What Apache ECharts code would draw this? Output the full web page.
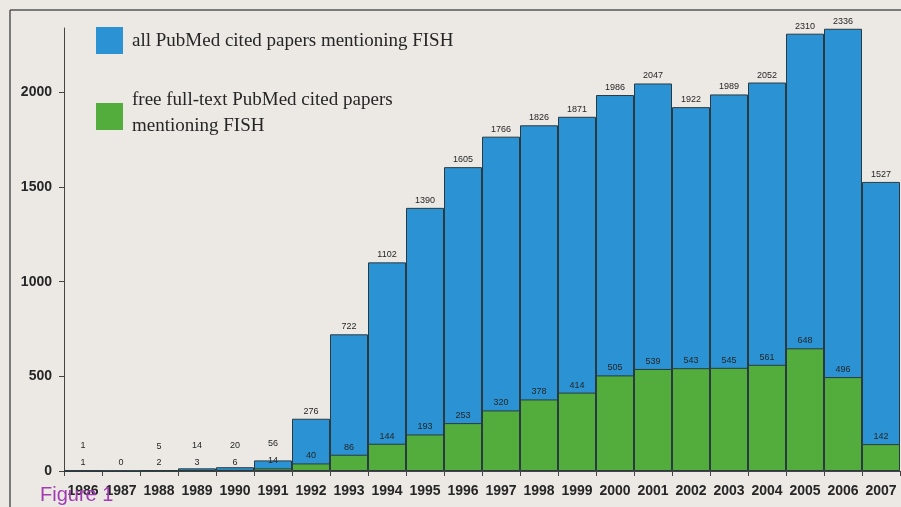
<!DOCTYPE html>
<html>
<head>
<meta charset="utf-8">
<script src="https://cdn.jsdelivr.net/npm/echarts@6/dist/echarts.min.js"></script>
<style>
html,body{margin:0;padding:0;background:#ece9e4;}
#c{width:901px;height:507px;}
</style>
</head>
<body>
<div id="c"></div>
<script>
const years = ['1986','1987','1988','1989','1990','1991','1992','1993','1994','1995','1996','1997','1998','1999','2000','2001','2002','2003','2004','2005','2006','2007'];
const allPapers = [1,0,5,14,20,56,276,722,1102,1390,1605,1766,1826,1871,1986,2047,1922,1989,2052,2310,2336,1527];
const freePapers = [1,0,2,3,6,14,40,86,144,193,253,320,378,414,505,539,543,545,561,648,496,142];
const yTickValues = [0,500,1000,1500,2000];
const seriesNames = ['all PubMed cited papers mentioning FISH','free full-text PubMed cited papers\nmentioning FISH'];

const BLUE = '#2b93d3';
const GREEN = '#52ad3c';
const chart = echarts.init(document.getElementById('c'), null, {renderer:'canvas'});

const labelStyle = {show:true, position:'top', distance:3, fontSize:9, fontFamily:'Liberation Sans, Arial, sans-serif', color:'#262626'};

const option = {
  backgroundColor:'#ece9e4',
  animation:false,
  grid:{left:64, right:1, top:28, bottom:36, containLabel:false, outerBoundsMode:'none'},
  xAxis:{
    type:'category', data:years, boundaryGap:true,
    axisLine:{lineStyle:{color:'#444', width:1}},
    axisTick:{show:true, length:5, lineStyle:{color:'#444'}},
    axisLabel:{fontSize:14, fontWeight:'bold', color:'#262626', margin:13, fontFamily:'Liberation Sans, Arial, sans-serif', interval:0}
  },
  yAxis:{
    type:'value', min:0, max:2340,
    splitLine:{show:false},
    axisLine:{show:true, lineStyle:{color:'#444', width:1}},
    axisTick:{show:true, length:5, lineStyle:{color:'#444'}, customValues:yTickValues},
    axisLabel:{fontSize:14, fontWeight:'bold', color:'#262626', margin:12, fontFamily:'Liberation Sans, Arial, sans-serif', customValues:yTickValues, formatter:v=>String(v)}
  },
  series:[
    {name:seriesNames[0], type:'bar', data:allPapers, barCategoryGap:'0%', barGap:'-100%',
     itemStyle:{color:BLUE, borderColor:'#2a3a40', borderWidth:1},
     label:Object.assign({}, labelStyle, {formatter:p=> p.value===0 ? '' : String(p.value)})},
    {name:seriesNames[1], type:'bar', data:freePapers, barCategoryGap:'0%', barGap:'-100%',
     itemStyle:{color:GREEN, borderColor:'#2a3a40', borderWidth:1},
     label:Object.assign({}, labelStyle)}
  ],
  graphic:[
    {type:'line', shape:{x1:10,y1:10,x2:901,y2:10}, style:{stroke:'#555', lineWidth:1.5}, z:100},
    {type:'line', shape:{x1:10,y1:10,x2:10,y2:507}, style:{stroke:'#555', lineWidth:1.5}, z:100},
    {type:'rect', shape:{x:96,y:27,width:27,height:27}, style:{fill:BLUE}, z:100},
    {type:'text', x:132, y:41, style:{text:seriesNames[0], font:'19px "Liberation Serif", "Times New Roman", serif', fill:'#262626', verticalAlign:'middle'}, z:100},
    {type:'rect', shape:{x:96,y:103,width:27,height:27}, style:{fill:GREEN}, z:100},
    {type:'text', x:132, y:113, style:{text:seriesNames[1], font:'19px "Liberation Serif", "Times New Roman", serif', fill:'#262626', verticalAlign:'middle', lineHeight:26}, z:100},
    {type:'text', x:40, y:495, style:{text:'Figure 1', font:'20px "Liberation Sans", Arial, sans-serif', fill:'#a23bb3', verticalAlign:'middle'}, z:100}
  ]
};
chart.setOption(option);

// raise total labels above the free-text labels where the bars are short
const blueData = allPapers.map((v,i)=>{
  const topY = chart.convertToPixel({gridIndex:0},[i,v])[1];
  const gTopY = chart.convertToPixel({gridIndex:0},[i,freePapers[i]])[1];
  const desired = Math.min(topY - 8, gTopY - 8 - 17);
  const off = desired - (topY - 8);
  return {value:v, label:{offset:[0, off]}};
});
chart.setOption({series:[{data:blueData}]});
</script>
</body>
</html>
